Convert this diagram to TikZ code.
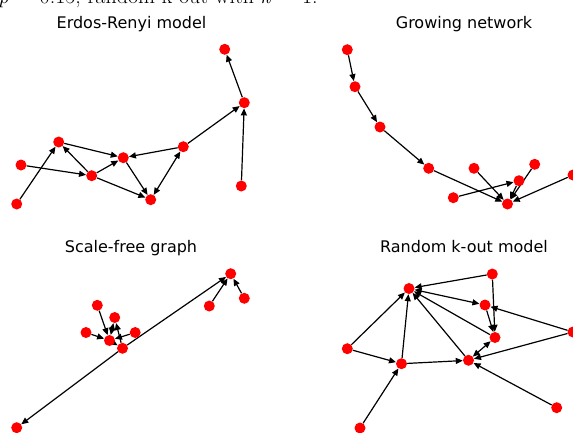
\documentclass[tikz,border=0pt]{standalone}
\usepackage{fontspec}
\newfontfamily\dejavu{DejaVu Sans}
\usetikzlibrary{arrows.meta}
\pgfdeclarelayer{bg}
\pgfsetlayers{bg,main}
\tikzset{
  vtx/.style={circle, fill=red, draw=none, inner sep=0pt, minimum size=11pt},
  edge/.style={line width=1.2pt, -{Triangle[length=7pt,width=6pt]}},
  bidir/.style={line width=1.2pt, {Triangle[length=7pt,width=6pt]}-{Triangle[length=7pt,width=6pt]}},
  ttl/.style={font=\dejavu\fontsize{16}{19}\selectfont, anchor=base, inner sep=0pt},
  captext/.style={font=\fontsize{22}{26}\selectfont, anchor=base west, inner sep=0pt},
}
\begin{document}
\begin{tikzpicture}[x=1pt,y=-1pt]
\useasboundingbox (0,0) rectangle (573,432);
\begin{scope}
\clip (0,0) rectangle (573,432);
\node[captext] (caption) at (-2,3.2) {\textit{p}\,\,=\,\,0.15, random k-out with \textit{k}\,\,=\,\,1.};
% titles
\node[ttl] (t1) at (131.5,28.5) {Erdos-Renyi model};
\node[ttl] (t2) at (464,28.5) {Growing network};
\node[ttl] (t3) at (131,252.5) {Scale-free graph};
\node[ttl] (t4) at (464,252.5) {Random k-out model};
% Erdos-Renyi
\node[vtx] (a1) at (224.7,49.3) {};
\node[vtx] (a2) at (244.3,102.7) {};
\node[vtx] (a3) at (183.3,146.7) {};
\node[vtx] (a4) at (123.3,157.7) {};
\node[vtx] (a5) at (58.7,142) {};
\node[vtx] (a6) at (21,165) {};
\node[vtx] (a7) at (91.7,175.7) {};
\node[vtx] (a8) at (150.7,199.7) {};
\node[vtx] (a9) at (16.7,204) {};
\node[vtx] (a10) at (241.3,186) {};
% Growing network
\node[vtx] (g1) at (347.3,49.7) {};
\node[vtx] (g2) at (355,86.7) {};
\node[vtx] (g3) at (380,127) {};
\node[vtx] (g4) at (428.7,168.3) {};
\node[vtx] (g5) at (474,168.3) {};
\node[vtx] (g6) at (534.7,164.3) {};
\node[vtx] (g7) at (519,180.7) {};
\node[vtx] (g8) at (573,175) {};
\node[vtx] (g9) at (453.3,197.7) {};
\node[vtx] (g10) at (507.5,204) {};
% Scale-free
\node[vtx] (s1) at (230.7,273.7) {};
\node[vtx] (s2) at (244.3,298.3) {};
\node[vtx] (s3) at (209.3,306) {};
\node[vtx] (s4) at (97.3,305.3) {};
\node[vtx] (s5) at (114.7,317.5) {};
\node[vtx] (s6) at (86,332.5) {};
\node[vtx] (s7) at (135.2,332.5) {};
\node[vtx] (s8) at (109.5,340.5) {};
\node[vtx] (s9) at (122.5,348.3) {};
\node[vtx] (s10) at (16.7,427.7) {};
% Random k-out
\node[vtx] (r1) at (409,288.5) {};
\node[vtx] (r2) at (492.3,274) {};
\node[vtx] (r3) at (485,305) {};
\node[vtx] (r4) at (495,337.5) {};
\node[vtx] (r5) at (573,332) {};
\node[vtx] (r6) at (347.3,348.7) {};
\node[vtx] (r7) at (401.5,363.7) {};
\node[vtx] (r8) at (468.5,360.3) {};
\node[vtx] (r9) at (556.7,407.7) {};
\node[vtx] (r10) at (360,428) {};
\begin{pgfonlayer}{bg}
% Erdos-Renyi edges
\draw[edge] (a2) -- (a1);
\draw[edge] (a3) -- (a2);
\draw[edge] (a10) -- (a2);
\draw[edge] (a3) -- (a4);
\draw[bidir] (a3) -- (a8);
\draw[edge] (a4) -- (a8);
\draw[edge] (a5) -- (a4);
\draw[edge] (a7) -- (a5);
\draw[edge] (a7) -- (a4);
\draw[edge] (a7) -- (a8);
\draw[edge] (a6) -- (a7);
\draw[edge] (a9) -- (a5);
% Growing network edges
\draw[edge] (g1) -- (g2);
\draw[edge] (g2) -- (g3);
\draw[edge] (g3) -- (g4);
\draw[edge] (g4) -- (g10);
\draw[edge] (g5) -- (g10);
\draw[edge] (g9) -- (g7);
\draw[edge] (g6) -- (g10);
\draw[edge] (g7) -- (g10);
\draw[edge] (g8) -- (g10);
% Scale-free edges
\draw[edge] (s9) -- (s1);
\draw[edge] (s9) -- (s10);
\draw[edge] (s3) -- (s1);
\draw[edge] (s2) -- (s1);
\draw[edge] (s4) -- (s8);
\draw[edge] (s6) -- (s8);
\draw[bidir] (s8) -- (s5);
\draw[edge] (s9) -- (s5);
\draw[edge] (s7) -- (s8);
\draw[edge] (s8) -- (s9);
% Random k-out edges
\draw[edge] (r2) -- (r1);
\draw[edge] (r2) -- (r4);
\draw[bidir] (r1) -- (r3);
\draw[edge] (r3) -- (r4);
\draw[edge] (r5) -- (r3);
\draw[edge] (r5) -- (r8);
\draw[edge] (r4) -- (r1);
\draw[edge] (r8) -- (r1);
\draw[bidir] (r4) -- (r8);
\draw[edge] (r6) -- (r1);
\draw[edge] (r6) -- (r7);
\draw[edge] (r7) -- (r1);
\draw[edge] (r7) -- (r8);
\draw[edge] (r10) -- (r7);
\draw[edge] (r9) -- (r8);
\end{pgfonlayer}
\end{scope}
\end{tikzpicture}
\end{document}
